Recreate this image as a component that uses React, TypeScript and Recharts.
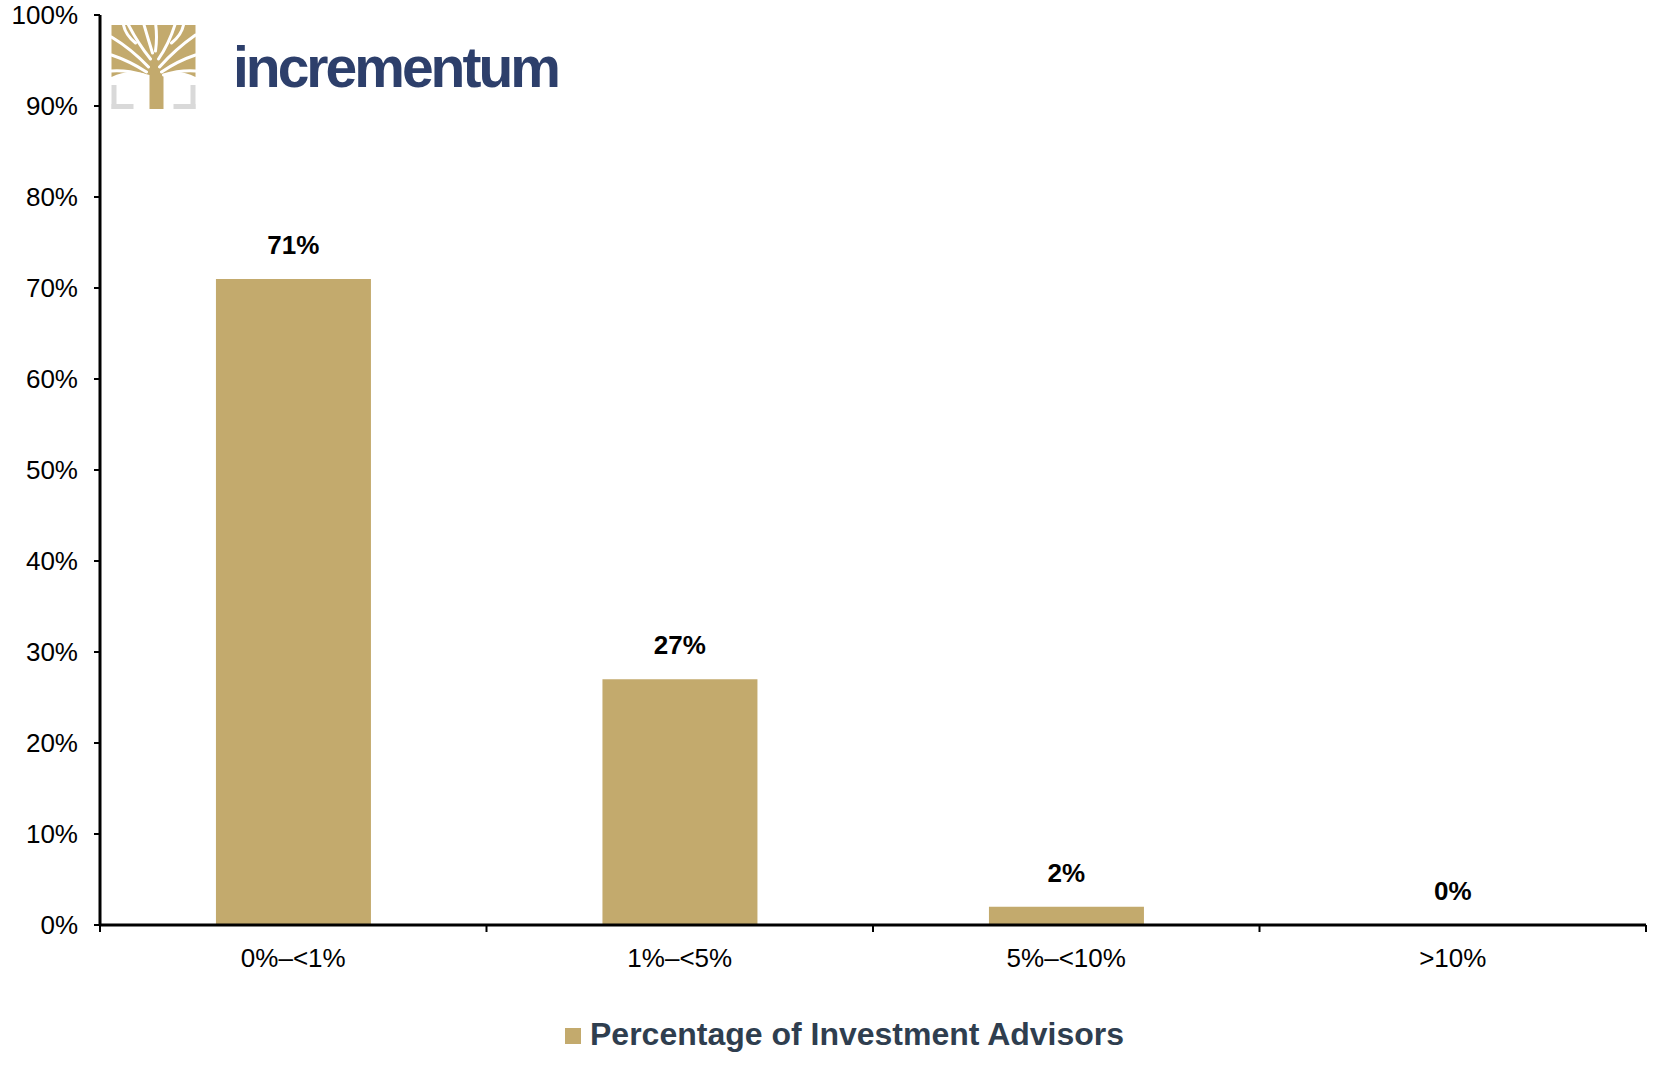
import React from "react";
import { ComposedChart, Bar, Line, XAxis, YAxis, LabelList } from "recharts";

const categories = ["0%–<1%", "1%–<5%", "5%–<10%", ">10%"];
const advisorShares = [71, 27, 2, 0];
const yTicks = [0, 10, 20, 30, 40, 50, 60, 70, 80, 90, 100];
const seriesName = "Percentage of Investment Advisors";

const GOLD = "#c3aa6d";
const NAVY = "#2d3f6b";
const FONT = "'Liberation Sans', Arial, sans-serif";

const CHART_W = 1676;
const CHART_H = 1066;
const MARGIN = { top: 15, right: 30, left: 0, bottom: 81 };
const Y_AXIS_W = 100;
const BAND = (CHART_W - MARGIN.left - MARGIN.right - Y_AXIS_W) / categories.length;

const data = categories.map((name, i) => ({ name, value: advisorShares[i] }));

// category label in the middle, tick marks on the band edges (Excel style)
const CategoryTick = (props: any) => {
  const { x, y, payload, index } = props;
  const y0 = y - 17 - 7;
  const last = index === categories.length - 1;
  return (
    <g>
      <line x1={x - BAND / 2} x2={x - BAND / 2} y1={y0} y2={y0 + 7} stroke="#000" strokeWidth={2} />
      {last && (
        <line x1={x + BAND / 2} x2={x + BAND / 2} y1={y0} y2={y0 + 7} stroke="#000" strokeWidth={2} />
      )}
      <text x={x} y={y} dy="0.71em" textAnchor="middle" fill="#000" fontSize={26} fontFamily={FONT}>
        {payload.value}
      </text>
    </g>
  );
};

const Logo = () => (
  <div style={{ position: "absolute", left: 111, top: 25, display: "flex", alignItems: "center" }}>
    <svg width={85} height={84} viewBox="0 0 84 84">
      <path d="M0,0 H84 V52 Q66,43 52,50 L52,84 H38 V50 Q18,43 0,52 Z" fill={GOLD} />
      <g stroke="#fff" strokeWidth={3} fill="none" strokeLinecap="round">
        <path d="M37,42 Q20,24 0,12" />
        <path d="M35,47 Q18,36 0,30" />
        <path d="M32,50 Q16,45 0,46" />
        <path d="M39,34 Q26,18 16,-2" />
        <path d="M41,28 Q36,12 32,-2" />
        <path d="M44,26 Q46,12 44,-2" />
        <path d="M47,34 Q58,18 64,-2" />
        <path d="M48,42 Q64,24 84,10" />
        <path d="M50,47 Q66,36 84,30" />
        <path d="M52,50 Q68,45 84,46" />
        <path d="M12,0 Q14,10 24,18" />
        <path d="M72,0 Q70,10 60,18" />
      </g>
      <g fill="#d9d9d9">
        <rect x={0} y={60} width={5} height={24} />
        <rect x={0} y={79} width={22} height={5} />
        <rect x={79} y={60} width={5} height={24} />
        <rect x={62} y={79} width={22} height={5} />
      </g>
    </svg>
    <div
      style={{
        marginLeft: 37,
        marginTop: 0,
        fontFamily: FONT,
        fontWeight: 700,
        fontSize: 57,
        letterSpacing: -3,
        color: NAVY,
      }}
    >
      incrementum
    </div>
  </div>
);

export default function App() {
  return (
    <div style={{ position: "relative", width: CHART_W, height: CHART_H, background: "#fff" }}>
      <style>{`body{margin:0}`}</style>
      <ComposedChart
        width={CHART_W}
        height={CHART_H}
        data={data}
        margin={MARGIN}
        barCategoryGap="30%"
      >
        <XAxis
          dataKey="name"
          height={60}
          axisLine={{ stroke: "#000", strokeWidth: 3 }}
          tickLine={false}
          tickSize={7}
          tickMargin={17}
          interval={0}
          tick={<CategoryTick />}
        />
        <YAxis
          width={Y_AXIS_W}
          domain={[0, 100]}
          ticks={yTicks}
          interval={0}
          tickFormatter={(v: number) => `${v}%`}
          axisLine={{ stroke: "#000", strokeWidth: 3 }}
          tickLine={{ stroke: "#000", strokeWidth: 2 }}
          tickSize={6}
          tickMargin={16}
          tick={{ fill: "#000", fontSize: 26, fontFamily: FONT }}
        />
        <Bar dataKey="value" fill={GOLD} isAnimationActive={false} />
        {/* invisible series just to carry the value labels (incl. the 0% one) */}
        <Line
          dataKey="value"
          stroke="none"
          dot={false}
          activeDot={false}
          legendType="none"
          isAnimationActive={false}
        >
          <LabelList
            dataKey="value"
            position="top"
            offset={25}
            formatter={(v: number) => `${v}%`}
            style={{ fill: "#000", fontSize: 26, fontWeight: 700, fontFamily: FONT }}
          />
        </Line>
      </ComposedChart>
      <Logo />
      <div
        style={{
          position: "absolute",
          left: 565,
          top: 1016,
          display: "flex",
          alignItems: "center",
          fontFamily: FONT,
          fontWeight: 700,
          fontSize: 32,
          color: "#2f3e4f",
        }}
      >
        <span style={{ width: 16, height: 16, background: GOLD, marginRight: 9, marginTop: 2 }} />
        {seriesName}
      </div>
    </div>
  );
}
